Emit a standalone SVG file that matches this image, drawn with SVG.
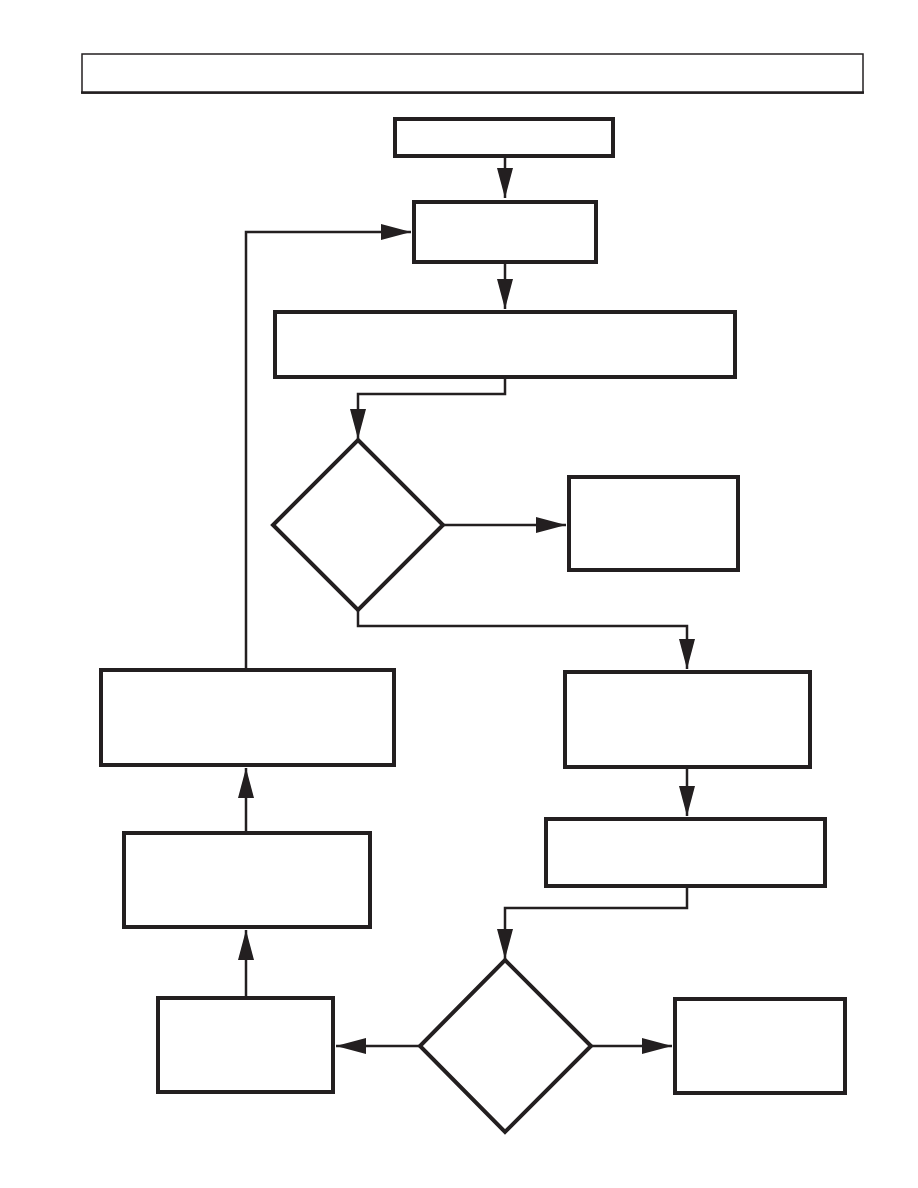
<svg xmlns="http://www.w3.org/2000/svg" width="918" height="1188" viewBox="0 0 918 1188">
<style>
.box{fill:#fff;stroke:#231f20;stroke-width:4}
.hdr{fill:#fff;stroke:#231f20;stroke-width:1.5}
.ln{fill:none;stroke:#231f20;stroke-width:2.5}
</style>
<defs>
<marker id="ah" markerUnits="userSpaceOnUse" markerWidth="32" markerHeight="18" refX="30" refY="8" orient="auto">
<path d="M0,0 L30,8 L0,16 Z" fill="#231f20"/>
</marker>
</defs>
<rect width="918" height="1188" fill="#fff"/>
<g id="header"><rect class="hdr" x="82" y="54" width="781" height="39"/><line x1="81" y1="92.5" x2="864" y2="92.5" stroke="#231f20" stroke-width="2.5"/></g>
<g id="connectors">
<line class="ln" x1="505" y1="157" x2="505" y2="198" marker-end="url(#ah)"/>
<line class="ln" x1="505" y1="264" x2="505" y2="309" marker-end="url(#ah)"/>
<polyline class="ln" points="505,379 505,394 358,394 358,439" marker-end="url(#ah)"/>
<line class="ln" x1="443" y1="525" x2="566" y2="525" marker-end="url(#ah)"/>
<polyline class="ln" points="358,610 358,626 687,626 687,669" marker-end="url(#ah)"/>
<line class="ln" x1="687" y1="768" x2="687" y2="816" marker-end="url(#ah)"/>
<polyline class="ln" points="687,887 687,908 505,908 505,959" marker-end="url(#ah)"/>
<line class="ln" x1="591" y1="1046" x2="672" y2="1046" marker-end="url(#ah)"/>
<line class="ln" x1="420" y1="1046" x2="336" y2="1046" marker-end="url(#ah)"/>
<line class="ln" x1="246" y1="996" x2="246" y2="930" marker-end="url(#ah)"/>
<line class="ln" x1="246" y1="831" x2="246" y2="768" marker-end="url(#ah)"/>
<polyline class="ln" points="246,668 246,232 411,232" marker-end="url(#ah)"/>
</g>
<g id="start"><rect class="box" x="395" y="119" width="218" height="37"/></g>
<g id="step1"><rect class="box" x="414" y="202" width="182" height="60"/></g>
<g id="step2"><rect class="box" x="275" y="312" width="460" height="65"/></g>
<g id="decision1"><polygon class="box" points="358,440 443,525 358,610 273,525"/></g>
<g id="result1"><rect class="box" x="569" y="477" width="169" height="93"/></g>
<g id="step3"><rect class="box" x="565" y="672" width="245" height="95"/></g>
<g id="step4"><rect class="box" x="546" y="819" width="279" height="67"/></g>
<g id="decision2"><polygon class="box" points="505,960 591,1046 505,1132 420,1046"/></g>
<g id="result2"><rect class="box" x="675" y="999" width="170" height="94"/></g>
<g id="step5"><rect class="box" x="158" y="998" width="175" height="94"/></g>
<g id="step6"><rect class="box" x="124" y="833" width="246" height="94"/></g>
<g id="step7"><rect class="box" x="101" y="670" width="293" height="95"/></g>
</svg>
